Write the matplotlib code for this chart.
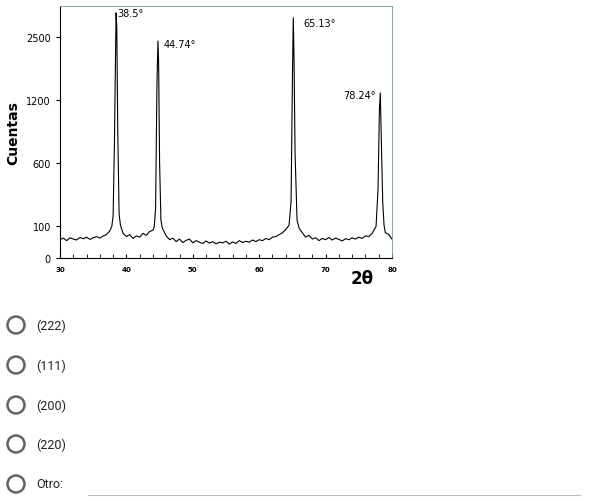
import numpy as np
import matplotlib
matplotlib.use("Agg")
import matplotlib.pyplot as plt
from matplotlib.patches import Circle
from matplotlib.lines import Line2D

# background (0.5 deg steps) segments
bg1_x = np.arange(30, 37.51, 0.5)
bg1_y = [58, 63, 55, 64, 60, 57, 65, 61, 66, 59, 64, 68, 63, 70, 74, 86]
pk1_x = [37.8, 38.0, 38.2, 38.35, 38.45, 38.55, 38.7, 38.9, 39.1]
pk1_y = [100, 180, 800, 2000, 3000, 2700, 900, 200, 110]
bg2_x = np.arange(39.5, 43.51, 0.5)
bg2_y = [78, 68, 74, 62, 70, 66, 78, 72, 84]
pk2_x = [44.0, 44.2, 44.4, 44.6, 44.75, 44.85, 45.0, 45.2, 45.4]
pk2_y = [88, 100, 250, 1500, 2420, 2000, 600, 150, 95]
bg3_x = np.arange(46.0, 64.01, 0.5)
bg3_y = [70, 58, 63, 52, 60, 49, 56, 60, 48, 55, 50, 46, 54, 47, 52, 45, 50, 48,
         53, 44, 51, 46, 55, 49, 53, 50, 57, 52, 58, 55, 62, 58, 66, 68, 74, 80, 90]
pk3_x = [64.5, 64.8, 65.0, 65.13, 65.25, 65.4, 65.7, 66.0]
pk3_y = [110, 300, 1600, 2900, 2000, 700, 150, 95]
bg4_x = np.arange(66.5, 77.01, 0.5)
bg4_y = [80, 66, 72, 60, 64, 55, 62, 58, 65, 57, 63, 59, 54, 61, 58, 64, 60, 66, 62, 70, 68, 78]
pk4_x = [77.6, 77.9, 78.1, 78.24, 78.4, 78.6, 78.8, 79.0, 79.5, 80.0]
pk4_y = [100, 400, 1100, 1350, 800, 300, 110, 80, 75, 60]

x = np.concatenate([bg1_x, pk1_x, bg2_x, pk2_x, bg3_x, pk3_x, bg4_x, pk4_x])
y = np.concatenate([bg1_y, pk1_y, bg2_y, pk2_y, bg3_y, pk3_y, bg4_y, pk4_y])

yticks = [0, 100, 600, 1200, 2500]
xticks = [30, 40, 50, 60, 70, 80]
peak_labels = ["38.5°", "44.74°", "65.13°", "78.24°"]
options = ["(222)", "(111)", "(200)", "(220)", "Otro:"]

cnt = [0, 100, 600, 1200, 2500, 15500]
pos = [0, 0.5, 1.5, 2.5, 3.5, 13.5]
fwd = lambda v: np.interp(v, cnt, pos)
inv = lambda p: np.interp(p, pos, cnt)

fig = plt.figure(figsize=(5.91, 5.02), dpi=100)
ax = fig.add_axes([60/591, 1-259/502, 332/591, 252/502])
ax.set_yscale('function', functions=(fwd, inv))
ax.plot(x, y, color='black', lw=0.8)
ax.set_xlim(30, 80)
ax.set_ylim(0, 3140)
ax.set_yticks(yticks)
ax.set_yticklabels([str(t) for t in yticks], fontsize=7)
ax.yaxis.set_minor_locator(matplotlib.ticker.NullLocator())
ax.set_xticks(xticks)
ax.set_xticklabels([str(t) for t in xticks], fontsize=5, fontweight='bold')
ax.set_xticks(np.arange(30, 80, 2), minor=True)
ax.tick_params(axis='x', which='both', direction='in', length=3, pad=6)
ax.tick_params(axis='y', length=3)
for s in ['top', 'right']:
    ax.spines[s].set_color('#6a9a9a')
    ax.spines[s].set_linewidth(0.6)
ax.set_ylabel("Cuentas", fontsize=10, fontweight='bold', labelpad=4)
ax.text(0.875, -0.08, "2θ", fontsize=12, fontweight='bold', va='center',
        transform=ax.transAxes)

ax.text(38.7, 3000, peak_labels[0], fontsize=7, va='center')
ax.text(45.6, 2350, peak_labels[1], fontsize=7, va='center')
ax.text(66.6, 2780, peak_labels[2], fontsize=7, va='center')
ax.text(77.6, 1300, peak_labels[3], fontsize=7, va='center', ha='right')

ys = [326, 366, 406, 445, 485]
for yy, lab in zip(ys, options):
    fy = 1 - yy/502
    fig.patches.append(Circle((16, (502-yy)), 8.5, transform=None,
                              fill=False, ec='#5f6368', lw=1.8))
    fig.text(36/591, fy, lab, fontsize=9, family='Roboto', color='#202124', va='center')
fig.lines.append(Line2D([88/591, 580/591], [1-496/502, 1-496/502],
                        transform=fig.transFigure, color='#bdbdbd', lw=0.8))
fig.savefig("out.png", dpi=100, facecolor='white')
